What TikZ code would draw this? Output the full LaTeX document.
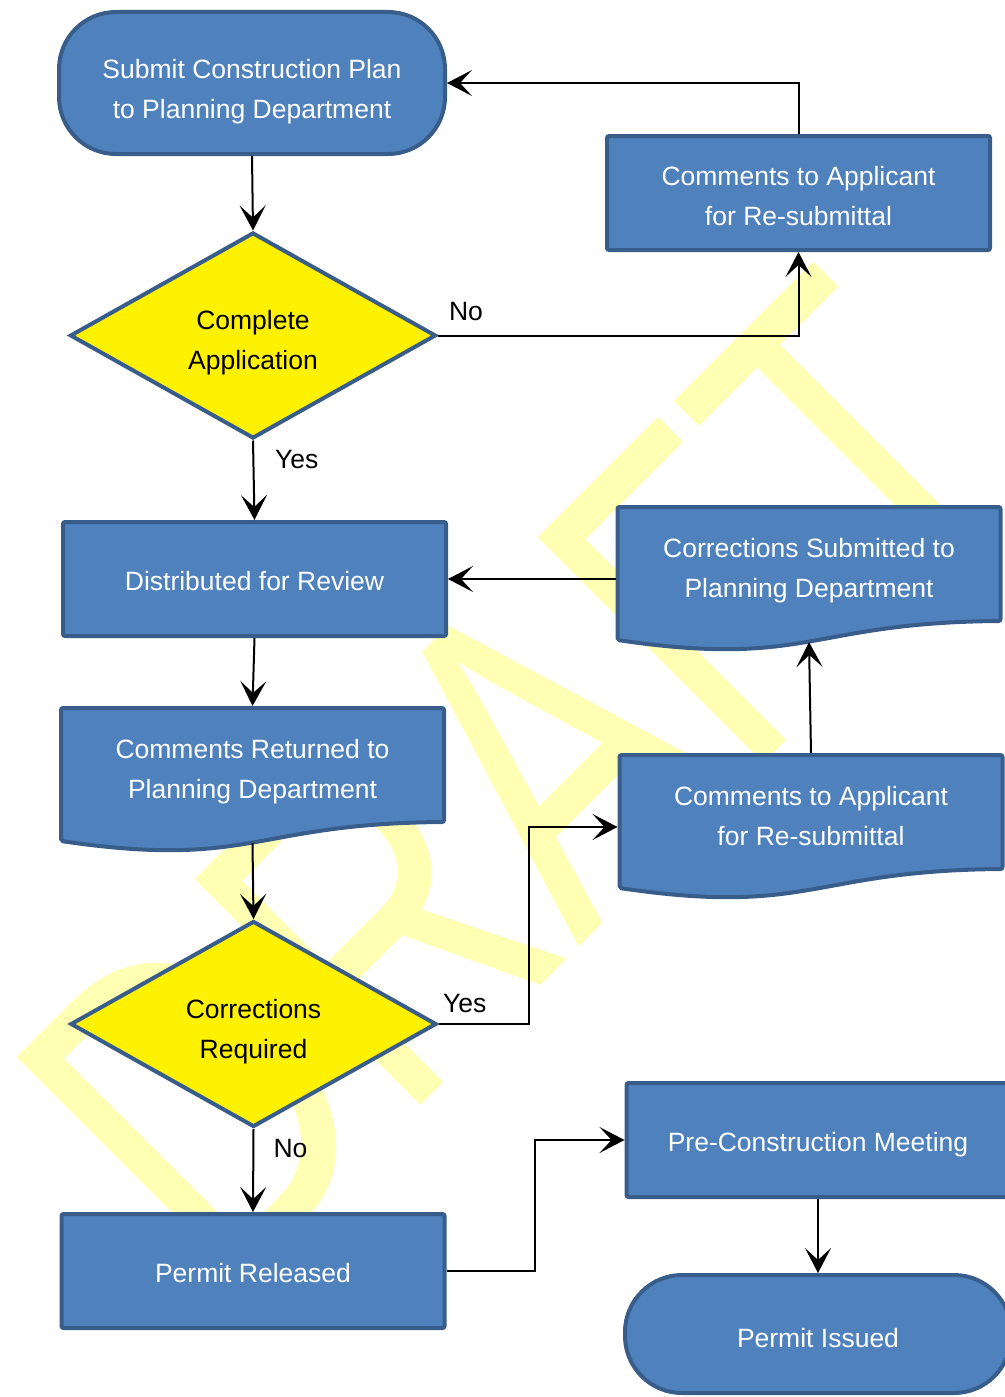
\documentclass[tikz,border=0pt]{standalone}
\usepackage{fontspec}
\setmainfont{Liberation Sans}
\usepackage{graphicx}
\usepackage{tikz}
\usetikzlibrary{arrows.meta,shapes.geometric}
\definecolor{boxblue}{HTML}{4F81BD}
\definecolor{boxedge}{HTML}{385D8A}
\definecolor{wmyellow}{HTML}{FFFFB3}

\begin{document}
\begin{tikzpicture}[x=1pt, y=-1pt,
  every node/.style={font=\fontsize{26.5}{40}\selectfont},
  box/.style={rectangle, rounded corners=2pt, fill=boxblue, draw=boxedge, line width=4pt,
    text=white, align=center, minimum width=383pt, minimum height=114pt,
    text height=23pt, text depth=0pt},
  term/.style={box, rounded corners=57pt, minimum width=386pt},
  decision/.style={diamond, fill=yellow, draw=boxedge, line width=4pt, align=center,
    minimum width=366pt, minimum height=206pt, inner sep=0pt, text height=68pt, text depth=0pt},
  docnode/.style={rectangle, line width=4pt, text=white, align=center,
    minimum width=383pt, minimum height=133pt, text depth=12pt},
  docline/.style={fill=boxblue, draw=boxedge, line width=4pt, rounded corners=2pt},
  arr/.style={line width=2pt, -{Stealth[length=25pt, width=26pt, inset=12pt]}},
  lbl/.style={anchor=base west, inner sep=0pt}]
  \newcommand{\DocBox}[4]{%
    \filldraw[docline] ({#2-191.5},#3) -- ({#2+191.5},#3) -- ({#2+191.5},{#3+114})
      .. controls (#2,{#3+115.4}) and (#2,{#3+161}) .. ({#2-191.5},{#3+133}) -- cycle;
    \node[docnode] (#1) at (#2,{#3+66.5}) {#4};%
  }
  \useasboundingbox (0,0) rectangle (1004,1397);

  % watermark
  \node[anchor=base west, rotate=45, inner sep=0pt, text=wmyellow,
    font=\fontsize{463.7}{463.7}\selectfont] (wm) at (222.7,1303.9) {\scalebox{0.752}[1]{DRAFT}};

  % left column
  \node[term, minimum height=142pt, text height=70pt] (sub) at (252,83) {Submit Construction Plan\\to Planning Department};
  \node[decision] (d1) at (253,335.5) {Complete\\Application};
  \node[box] (dist) at (254.5,579) {Distributed for Review};
  \DocBox{cr}{252.5}{708}{Comments Returned to\\Planning Department}
  \node[decision] (d2) at (253.5,1024) {Corrections\\Required};
  \node[box] (rel) at (253,1271) {Permit Released};

  % right column
  \node[box, text height=64pt] (c1) at (798.5,193) {Comments to Applicant\\for Re-submittal};
  \DocBox{cs}{809}{507}{Corrections Submitted to\\Planning Department}
  \DocBox{c2}{811}{755}{Comments to Applicant\\for Re-submittal}
  \node[box] (pre) at (818,1140) {Pre-Construction Meeting};
  \node[term, minimum height=118pt, text height=27pt] (iss) at (818,1334) {Permit Issued};

  % connectors
  \draw[arr] (sub.south) -- (d1.north);
  \draw[arr] (d1.east) node[lbl, xshift=10pt, yshift=15.5pt] {No} -| (c1.south);
  \draw[arr] (c1.north) |- (sub.east);
  \draw[arr] (d1.south) node[lbl, xshift=21pt, yshift=-27.5pt] {Yes} -- (dist.north);
  \draw[arr] (dist.south) -- (cr.north);
  \draw[arr] (cr.south) -- (d2.north);
  \draw[arr] (d2.east) node[lbl, xshift=3.5pt, yshift=12pt] {Yes} -- ++(90,0) |- ([yshift=-5.5pt]c2.west);
  \draw[arr] (c2.north) -- (cs.south);
  \draw[arr] (cs.west |- dist.east) -- (dist.east);
  \draw[arr] (d2.south) node[lbl, xshift=19pt, yshift=-28pt] {No} -- (rel.north);
  \draw[arr] (rel.east) -- ++(88,0) |- (pre.west);
  \draw[arr] (pre.south) -- (iss.north);
\end{tikzpicture}
\end{document}
